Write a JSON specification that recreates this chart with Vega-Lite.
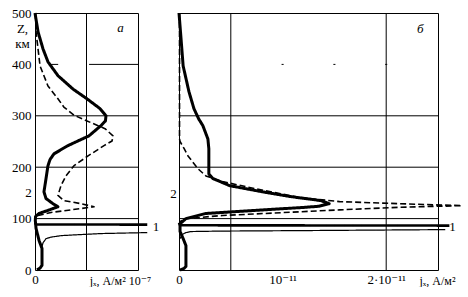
{
  "$schema": "https://vega.github.io/schema/vega-lite/v6.json",
  "padding": {"left": 0, "top": 6, "right": 0, "bottom": 0},
  "bounds": "flush",
  "spacing": 41,
  "background": "white",
  "config": {
    "view": {"stroke": "black", "strokeWidth": 1},
    "font": "Liberation Serif, DejaVu Serif, serif",
    "axis": {"ticks": false, "domain": false, "grid": false, "labelFont": "Liberation Serif, DejaVu Serif, serif", "labelFontSize": 13, "labelColor": "black", "titleFont": "Liberation Serif, DejaVu Serif, serif", "titleFontSize": 13, "titleFontWeight": "normal", "titleColor": "black"},
    "text": {"font": "Liberation Serif, DejaVu Serif, serif", "fontSize": 13, "color": "black"}
  },
  "datasets": {
    "curves": [
      {"p":"a","c":"2","z":500,"v":0},{"p":"a","c":"2","z":463,"v":0.03},{"p":"a","c":"2","z":430,"v":0.078},{"p":"a","c":"2","z":405,"v":0.126},{"p":"a","c":"2","z":378,"v":0.223},{"p":"a","c":"2","z":352,"v":0.369},{"p":"a","c":"2","z":333,"v":0.505},{"p":"a","c":"2","z":314,"v":0.631},{"p":"a","c":"2","z":300,"v":0.689},{"p":"a","c":"2","z":290,"v":0.684},{"p":"a","c":"2","z":281,"v":0.641},{"p":"a","c":"2","z":261,"v":0.524},{"p":"a","c":"2","z":242,"v":0.32},{"p":"a","c":"2","z":226,"v":0.184},{"p":"a","c":"2","z":215,"v":0.146},{"p":"a","c":"2","z":203,"v":0.126},{"p":"a","c":"2","z":178,"v":0.107},{"p":"a","c":"2","z":152,"v":0.087},{"p":"a","c":"2","z":139,"v":0.107},{"p":"a","c":"2","z":129,"v":0.175},{"p":"a","c":"2","z":123,"v":0.223},{"p":"a","c":"2","z":116,"v":0.126},{"p":"a","c":"2","z":110,"v":0.039},{"p":"a","c":"2","z":104,"v":0.005},{"p":"a","c":"2","z":96,"v":0.003},{"p":"a","c":"2","z":81,"v":0.01},{"p":"a","c":"2","z":57,"v":0.04},{"p":"a","c":"2","z":42,"v":0.068},{"p":"a","c":"2","z":9,"v":0.068},{"p":"a","c":"2","z":4,"v":0.05},{"p":"a","c":"2","z":0,"v":0.02},
      {"p":"a","c":"2d","z":500,"v":0.005},{"p":"a","c":"2d","z":463,"v":0.01},{"p":"a","c":"2d","z":397,"v":0.049},{"p":"a","c":"2d","z":358,"v":0.126},{"p":"a","c":"2d","z":333,"v":0.223},{"p":"a","c":"2d","z":317,"v":0.28},{"p":"a","c":"2d","z":301,"v":0.38},{"p":"a","c":"2d","z":290,"v":0.505},{"p":"a","c":"2d","z":275,"v":0.68},{"p":"a","c":"2d","z":261,"v":0.757},{"p":"a","c":"2d","z":251,"v":0.748},{"p":"a","c":"2d","z":242,"v":0.67},{"p":"a","c":"2d","z":222,"v":0.515},{"p":"a","c":"2d","z":203,"v":0.379},{"p":"a","c":"2d","z":183,"v":0.3},{"p":"a","c":"2d","z":164,"v":0.252},{"p":"a","c":"2d","z":145,"v":0.223},{"p":"a","c":"2d","z":135,"v":0.282},{"p":"a","c":"2d","z":129,"v":0.447},{"p":"a","c":"2d","z":123,"v":0.573},{"p":"a","c":"2d","z":117,"v":0.35},{"p":"a","c":"2d","z":112,"v":0.155},{"p":"a","c":"2d","z":106,"v":0.03},{"p":"a","c":"2d","z":100,"v":0},
      {"p":"a","c":"1","z":92,"v":0},{"p":"a","c":"1","z":88.6,"v":0.01},{"p":"a","c":"1","z":88.3,"v":1.09},
      {"p":"a","c":"1t","z":72.8,"v":1.09},{"p":"a","c":"1t","z":70.9,"v":0.64},{"p":"a","c":"1t","z":67,"v":0.26},{"p":"a","c":"1t","z":64,"v":0.155},{"p":"a","c":"1t","z":61,"v":0.107},{"p":"a","c":"1t","z":53,"v":0.078},{"p":"a","c":"1t","z":45.6,"v":0.068},
      {"p":"b","c":"2","z":500,"v":0},{"p":"b","c":"2","z":449,"v":0.02},{"p":"b","c":"2","z":397,"v":0.04},{"p":"b","c":"2","z":347,"v":0.096},{"p":"b","c":"2","z":314,"v":0.144},{"p":"b","c":"2","z":294,"v":0.19},{"p":"b","c":"2","z":281,"v":0.23},{"p":"b","c":"2","z":255,"v":0.279},{"p":"b","c":"2","z":236,"v":0.288},{"p":"b","c":"2","z":187,"v":0.288},{"p":"b","c":"2","z":178,"v":0.327},{"p":"b","c":"2","z":164,"v":0.49},{"p":"b","c":"2","z":152,"v":0.81},{"p":"b","c":"2","z":143,"v":1.07},{"p":"b","c":"2","z":139,"v":1.22},{"p":"b","c":"2","z":135,"v":1.37},{"p":"b","c":"2","z":129,"v":1.45},{"p":"b","c":"2","z":124,"v":1.35},{"p":"b","c":"2","z":122,"v":1.22},{"p":"b","c":"2","z":116,"v":0.74},{"p":"b","c":"2","z":110,"v":0.26},{"p":"b","c":"2","z":100,"v":0.067},{"p":"b","c":"2","z":90,"v":0.01},{"p":"b","c":"2","z":75,"v":0.01},{"p":"b","c":"2","z":61,"v":0.04},{"p":"b","c":"2","z":47.5,"v":0.067},{"p":"b","c":"2","z":7,"v":0.067},{"p":"b","c":"2","z":3,"v":0.048},{"p":"b","c":"2","z":0,"v":0.01},
      {"p":"b","c":"2d","z":500,"v":0.005},{"p":"b","c":"2d","z":255,"v":0.005},{"p":"b","c":"2d","z":250,"v":0.01},{"p":"b","c":"2d","z":236,"v":0.05},{"p":"b","c":"2d","z":222,"v":0.087},{"p":"b","c":"2d","z":197,"v":0.183},{"p":"b","c":"2d","z":183,"v":0.26},{"p":"b","c":"2d","z":172,"v":0.42},{"p":"b","c":"2d","z":158,"v":0.74},{"p":"b","c":"2d","z":141,"v":1.17},{"p":"b","c":"2d","z":133,"v":1.55},{"p":"b","c":"2d","z":129,"v":2.13},{"p":"b","c":"2d","z":125.2,"v":2.73},{"p":"b","c":"2d","z":122,"v":2.13},{"p":"b","c":"2d","z":117,"v":1.55},{"p":"b","c":"2d","z":106,"v":0.42},{"p":"b","c":"2d","z":100,"v":0.067},{"p":"b","c":"2d","z":94,"v":0.005},
      {"p":"b","c":"1","z":92,"v":0},{"p":"b","c":"1","z":87,"v":0.01},{"p":"b","c":"1","z":86.4,"v":2.61},
      {"p":"b","c":"1t","z":78.6,"v":2.57},{"p":"b","c":"1t","z":76.7,"v":1.22},{"p":"b","c":"1t","z":75.7,"v":0.4},{"p":"b","c":"1t","z":74.8,"v":0.115},{"p":"b","c":"1t","z":72.8,"v":0.067},{"p":"b","c":"1t","z":69,"v":0.03},{"p":"b","c":"1t","z":61,"v":0.01}
    ],
    "grid": [
      {"p":"a","d":"v","v":0.5},
      {"p":"a","d":"h","z":100},{"p":"a","d":"h","z":200},{"p":"a","d":"h","z":300},
      {"p":"a","d":"s","z":400,"v":0.155,"v2":0.225},{"p":"a","d":"s","z":400,"v":0.525,"v2":1},
      {"p":"b","d":"v","v":0.5},{"p":"b","d":"v","v":2},
      {"p":"b","d":"h","z":100},{"p":"b","d":"h","z":200},{"p":"b","d":"h","z":300},
      {"p":"b","d":"s","z":400,"v":0.99,"v2":1.01},{"p":"b","d":"s","z":400,"v":1.49,"v2":1.51},{"p":"b","d":"s","z":400,"v":1.99,"v2":2.01}
    ],
    "notes": [
      {"p":"a","k":"letter","t":"а","v":0.83,"z":471},
      {"p":"b","k":"letter","t":"б","v":2.33,"z":469},
      {"p":"a","k":"curve","t":"2","v":-0.063,"z":150},
      {"p":"a","k":"curve","t":"1","v":1.175,"z":84.5},
      {"p":"b","k":"curve","t":"2","v":-0.053,"z":147},
      {"p":"b","k":"curve","t":"1","v":2.64,"z":83.5}
    ]
  },
  "resolve": {"scale": {"x": "independent", "y": "independent"}},
  "hconcat": [
    {
      "width": 103,
      "height": 257,
      "layer": [
        {
          "data": {"name": "grid"},
          "transform": [{"filter": "datum.p == 'a' && datum.d == 'v'"}],
          "mark": {"type": "rule", "color": "black", "strokeWidth": 1},
          "encoding": {
            "x": {"field": "v", "type": "quantitative", "scale": {"domain": [0, 1], "nice": false},
              "axis": {"values": [0], "labelExpr": "'0'", "labelPadding": 3, "labelFlush": false, "title": "jₓ, А/м² 10⁻⁷", "titleX": 85, "titleY": 10, "titleAlign": "center", "titleBaseline": "middle", "titleFontSize": 12}}
          }
        },
        {
          "data": {"name": "grid"},
          "transform": [{"filter": "datum.p == 'a' && datum.d == 'h'"}],
          "mark": {"type": "rule", "color": "black", "strokeWidth": 1},
          "encoding": {
            "y": {"field": "z", "type": "quantitative", "scale": {"domain": [0, 500], "nice": false},
              "axis": {"values": [0, 100, 200, 300, 400, 500], "labelPadding": 4, "labelFlush": false, "minExtent": 34, "maxExtent": 34, "title": ["Z,", "км"], "titleAngle": 0, "titleX": -13, "titleY": 19, "titleAlign": "center", "titleBaseline": "alphabetic", "titleLineHeight": 15}}
          }
        },
        {
          "data": {"name": "grid"},
          "transform": [{"filter": "datum.p == 'a' && datum.d == 's'"}],
          "mark": {"type": "rule", "color": "black", "strokeWidth": 1},
          "encoding": {
            "x": {"field": "v", "type": "quantitative"},
            "x2": {"field": "v2"},
            "y": {"field": "z", "type": "quantitative"}
          }
        },
        {
          "data": {"name": "curves"},
          "transform": [{"filter": "datum.p == 'a'"}],
          "mark": {"type": "line", "strokeJoin": "round", "color": "black"},
          "encoding": {
            "x": {"field": "v", "type": "quantitative"},
            "y": {"field": "z", "type": "quantitative"},
            "detail": {"field": "c"},
            "order": {"field": "z", "sort": "descending"},
            "strokeWidth": {"field": "c", "type": "nominal", "scale": {"type": "ordinal", "domain": ["2", "2d", "1", "1t"], "range": [3, 1.6, 2.6, 1.2]}, "legend": null},
            "strokeDash": {"field": "c", "type": "nominal", "scale": {"domain": ["2", "2d", "1", "1t"], "range": [[1, 0], [6, 3], [1, 0], [1, 0]]}, "legend": null}
          }
        },
        {
          "data": {"name": "notes"},
          "transform": [{"filter": "datum.p == 'a' && datum.k == 'letter'"}],
          "mark": {"type": "text", "align": "center", "baseline": "middle", "fontStyle": "italic"},
          "encoding": {
            "x": {"field": "v", "type": "quantitative"},
            "y": {"field": "z", "type": "quantitative"},
            "text": {"field": "t"}
          }
        },
        {
          "data": {"name": "notes"},
          "transform": [{"filter": "datum.p == 'a' && datum.k == 'curve'"}],
          "mark": {"type": "text", "align": "center", "baseline": "middle"},
          "encoding": {
            "x": {"field": "v", "type": "quantitative"},
            "y": {"field": "z", "type": "quantitative"},
            "text": {"field": "t"}
          }
        }
      ]
    },
    {
      "width": 259,
      "height": 257,
      "layer": [
        {
          "data": {"name": "grid"},
          "transform": [{"filter": "datum.p == 'b' && datum.d == 'v'"}],
          "mark": {"type": "rule", "color": "black", "strokeWidth": 1},
          "encoding": {
            "x": {"field": "v", "type": "quantitative", "scale": {"domain": [0, 2.5], "nice": false},
              "axis": {"values": [0, 1, 2], "labelExpr": "datum.value == 0 ? '0' : datum.value == 1 ? '10⁻¹¹' : '2·10⁻¹¹'", "labelPadding": 3, "labelFlush": false, "title": "jₓ, А/м²", "titleX": 258, "titleY": 10, "titleAlign": "center", "titleBaseline": "middle", "titleFontSize": 12}}
          }
        },
        {
          "data": {"name": "grid"},
          "transform": [{"filter": "datum.p == 'b' && datum.d == 'h'"}],
          "mark": {"type": "rule", "color": "black", "strokeWidth": 1},
          "encoding": {
            "y": {"field": "z", "type": "quantitative", "scale": {"domain": [0, 500], "nice": false}, "axis": null}
          }
        },
        {
          "data": {"name": "grid"},
          "transform": [{"filter": "datum.p == 'b' && datum.d == 's'"}],
          "mark": {"type": "rule", "color": "black", "strokeWidth": 1},
          "encoding": {
            "x": {"field": "v", "type": "quantitative"},
            "x2": {"field": "v2"},
            "y": {"field": "z", "type": "quantitative", "axis": null}
          }
        },
        {
          "data": {"name": "curves"},
          "transform": [{"filter": "datum.p == 'b'"}],
          "mark": {"type": "line", "strokeJoin": "round", "color": "black"},
          "encoding": {
            "x": {"field": "v", "type": "quantitative"},
            "y": {"field": "z", "type": "quantitative", "axis": null},
            "detail": {"field": "c"},
            "order": {"field": "z", "sort": "descending"},
            "strokeWidth": {"field": "c", "type": "nominal", "scale": {"type": "ordinal", "domain": ["2", "2d", "1", "1t"], "range": [3, 1.8, 2, 1.6]}, "legend": null},
            "strokeDash": {"field": "c", "type": "nominal", "scale": {"domain": ["2", "2d", "1", "1t"], "range": [[1, 0], [8, 3], [1, 0], [1, 0]]}, "legend": null}
          }
        },
        {
          "data": {"name": "notes"},
          "transform": [{"filter": "datum.p == 'b' && datum.k == 'letter'"}],
          "mark": {"type": "text", "align": "center", "baseline": "middle", "fontStyle": "italic"},
          "encoding": {
            "x": {"field": "v", "type": "quantitative"},
            "y": {"field": "z", "type": "quantitative", "axis": null},
            "text": {"field": "t"}
          }
        },
        {
          "data": {"name": "notes"},
          "transform": [{"filter": "datum.p == 'b' && datum.k == 'curve'"}],
          "mark": {"type": "text", "align": "center", "baseline": "middle"},
          "encoding": {
            "x": {"field": "v", "type": "quantitative"},
            "y": {"field": "z", "type": "quantitative", "axis": null},
            "text": {"field": "t"}
          }
        }
      ]
    }
  ]
}
